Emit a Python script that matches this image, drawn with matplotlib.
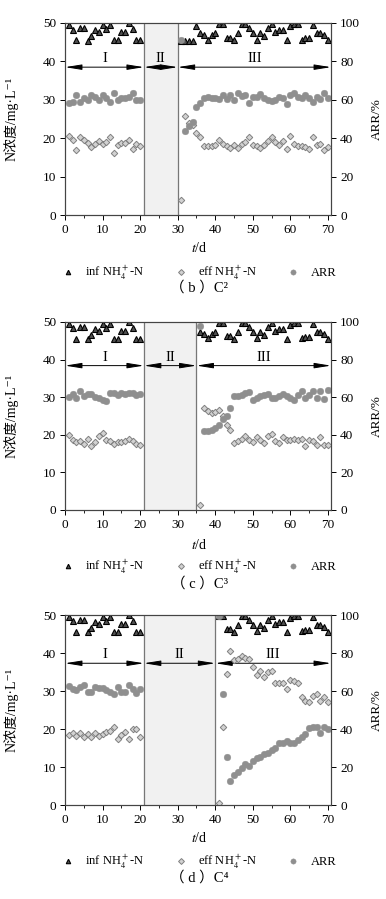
import numpy as np
import matplotlib
matplotlib.use("Agg")
from matplotlib import pyplot as plt
from matplotlib.lines import Line2D

plt.rcParams['font.family'] = ['Liberation Serif', 'Noto Sans CJK SC', 'DejaVu Sans']
plt.rcParams['mathtext.fontset'] = 'stix'

# influent NH4+-N, same feed in all reactors
days_1 = np.arange(1, 21)
inf_1 = [49.6, 48.3, 45.5, 48.8, 48.8, 45.4, 46.6, 48.1, 47.7, 49.6,
         48.5, 49.6, 45.5, 45.5, 47.7, 47.7, 50.0, 48.5, 45.5, 45.6]
days_3 = np.arange(31, 71)
inf_3 = [45.4, 45.3, 45.3, 45.2, 49.2, 47.3, 46.8, 45.7, 46.9, 47.3,
         49.7, 49.7, 46.2, 46.2, 45.5, 47.4, 49.7, 49.7, 48.6, 47.4,
         45.7, 47.4, 46.5, 48.6, 49.7, 47.7, 48.1, 48.1, 45.5, 49.2,
         49.7, 49.7, 45.7, 46.0, 46.0, 49.5, 47.4, 47.3, 46.8, 45.5]

# (b) C2
eff_b1 = [20.5, 19.5, 16.9, 20.2, 19.5, 18.8, 17.8, 18.6, 19.3, 18.5,
          19.1, 20.4, 16.2, 18.2, 18.8, 18.8, 19.5, 17.3, 18.5, 17.9]
arr_b1 = [58.4, 59.0, 62.7, 59.0, 60.7, 59.8, 62.4, 61.5, 60.1, 62.7,
          60.7, 59.0, 63.8, 60.1, 60.7, 60.7, 61.2, 63.8, 59.8, 60.1]
eff_b3 = [3.9, 25.7, 24.0, 23.5, 21.4, 20.2, 18.0, 18.0, 18.0, 18.2,
          19.5, 18.6, 18.0, 17.5, 18.2, 17.5, 18.6, 19.0, 20.2, 18.3,
          18.0, 17.5, 18.2, 19.3, 20.4, 19.0, 18.3, 19.2, 17.3, 20.5,
          18.6, 18.0, 18.0, 17.6, 17.2, 20.2, 18.2, 18.6, 17.0, 17.6]
arr_b3 = [91.3, 43.7, 46.3, 48.5, 56.3, 58.5, 60.7, 61.2, 61.0, 61.0,
          60.5, 62.4, 60.5, 62.4, 60.0, 63.3, 62.0, 62.4, 58.4, 61.2,
          61.5, 63.0, 61.0, 60.0, 59.4, 60.0, 61.5, 60.7, 58.0, 62.4,
          63.3, 61.5, 60.7, 62.4, 61.0, 59.0, 61.2, 60.2, 63.6, 60.7]

# (c) C3
eff_c1 = [20.0, 18.7, 18.1, 18.4, 17.5, 18.9, 17.1, 18.1, 19.6, 20.5,
          18.7, 18.4, 17.5, 18.1, 18.1, 18.4, 18.9, 18.4, 17.5, 17.4]
arr_c1 = [60.0, 61.8, 59.5, 63.5, 60.5, 61.5, 61.5, 60.3, 59.5, 58.5,
          58.0, 62.0, 62.3, 61.0, 62.0, 61.6, 62.0, 62.5, 61.4, 61.6]
eff_c3 = [1.3, 27.2, 26.4, 25.9, 26.0, 26.6, 25.0, 22.5, 21.2, 17.9,
          18.3, 18.8, 19.6, 18.6, 18.1, 19.4, 18.6, 17.8, 19.6, 20.1,
          18.4, 17.9, 19.5, 18.6, 18.6, 19.0, 18.5, 18.8, 17.0, 18.6,
          18.3, 17.4, 19.4, 17.2, 17.2]
arr_c3 = [97.8, 41.8, 42.0, 42.6, 43.5, 45.0, 48.5, 50.2, 54.5, 60.9,
          60.9, 61.2, 62.0, 62.7, 58.6, 59.5, 60.4, 61.0, 61.5, 59.8,
          59.8, 60.4, 61.7, 60.4, 59.5, 58.6, 61.0, 63.4, 59.5, 61.0,
          63.2, 59.8, 63.4, 59.1, 63.9]

# (d) C4
eff_d1 = [18.4, 19.0, 18.2, 18.9, 18.0, 18.6, 18.0, 18.9, 18.2, 18.7,
          19.1, 19.6, 20.6, 17.3, 18.4, 19.3, 17.3, 19.9, 19.9, 18.0]
arr_d1 = [62.8, 60.9, 60.5, 61.9, 63.2, 59.6, 59.6, 62.3, 61.4, 61.4,
          60.5, 59.6, 58.4, 61.9, 59.6, 59.6, 63.2, 60.9, 58.8, 60.9]
eff_d3 = [0.4, 20.5, 34.5, 40.6, 38.2, 38.5, 39.3, 38.6, 38.4, 36.2,
          34.2, 35.3, 33.7, 35.0, 35.2, 32.2, 32.2, 32.0, 30.6, 33.0,
          32.6, 32.2, 28.5, 27.4, 27.0, 28.6, 29.2, 27.5, 28.4, 27.2]
arr_d3 = [99.4, 58.4, 25.1, 12.8, 15.8, 17.5, 19.3, 21.6, 20.5, 23.3,
          24.6, 25.4, 26.8, 27.5, 28.9, 29.8, 32.8, 32.8, 33.8, 32.5,
          32.5, 34.2, 35.6, 37.4, 40.4, 40.9, 41.1, 38.1, 41.1, 40.0]

# phase II end day per reactor
panels = [
    ('b', '²', 30, eff_b1, arr_b1, eff_b3, arr_b3),
    ('c', '³', 35, eff_c1, arr_c1, eff_c3, arr_c3),
    ('d', '⁴', 40, eff_d1, arr_d1, eff_d3, arr_d3),
]
# pixel layout (top, bottom of axes, xlabel y, legend y, caption y, arrow y)
layout = [
    (23, 215, 248, 273, 288, 38.5),
    (322, 510, 545, 567, 584, 38.4),
    (615, 805, 838, 862, 878, 37.3),
]

W, H = 386, 899
fig = plt.figure(figsize=(W / 100, H / 100), dpi=100)

inf_kw = dict(ls='none', marker='^', ms=3.8, mfc='#505050', mec='black', mew=0.8)
eff_kw = dict(ls='none', marker='D', ms=3.3, mfc='#d2d2d2', mec='#808080', mew=0.7)
arr_kw = dict(ls='none', marker='o', ms=4.8, mfc='#8f8f8f', mec='#8f8f8f', mew=0.3)
fs = 9.5
xl, xr = 65, 331

for (tag, sup, end2, e1, a1, e3, a3), (top, bot, yxl, yleg, ycap, yarr) in zip(panels, layout):
    ax = fig.add_axes([xl / W, 1 - bot / H, (xr - xl) / W, (bot - top) / H])
    ax2 = ax.twinx()
    xmax = 70.8
    ax.set_xlim(0, xmax)
    ax.set_ylim(0, 50)
    ax2.set_ylim(0, 100)

    ax.axvspan(21, end2, color='#f1f1f1', zorder=0)
    ax.axvline(21, color='#777777', lw=0.9)
    ax.axvline(end2, color='#777777', lw=0.9)

    # phase arrows
    for x0, x1, lab in [(0, 21, 'I'), (21, end2, 'II'), (end2, xmax, 'III')]:
        ax.annotate('', xy=(x1, yarr), xytext=(x0, yarr),
                    arrowprops=dict(arrowstyle='<|-|>,head_length=1.0,head_width=0.16',
                                    color='black', lw=0.7, shrinkA=0, shrinkB=0))
        ax.text((x0 + x1) / 2, yarr + 0.5, lab, ha='center', va='bottom', fontsize=10.5)

    d3 = np.arange(end2 + 1, 71)
    inf3 = inf_3[end2 + 1 - 31:]
    ax.plot(days_1, inf_1, **inf_kw, zorder=3)
    ax.plot(d3, inf3, **inf_kw, zorder=3)
    ax.plot(days_1, e1, **eff_kw, zorder=3)
    ax.plot(d3, e3, **eff_kw, zorder=3)
    ax2.plot(days_1, a1, **arr_kw)
    ax2.plot(d3, a3, **arr_kw)

    ax.set_xticks(np.arange(0, 71, 10))
    ax.set_xticks(np.arange(5, 71, 10), minor=True)
    ax.set_yticks(np.arange(0, 51, 10))
    ax2.set_yticks(np.arange(0, 101, 20))
    ax.tick_params(axis='both', direction='out', labelsize=fs, length=3.5, width=0.7, pad=3)
    ax.tick_params(axis='x', which='minor', direction='out', length=2, width=0.6)
    ax2.tick_params(axis='y', direction='out', labelsize=fs, length=3.5, width=0.7, pad=3)
    for a in (ax, ax2):
        for s in a.spines.values():
            s.set_linewidth(0.8)
            s.set_color('#444444')

    ax.set_ylabel('N浓度/mg·L⁻¹', fontsize=10)
    ax.yaxis.set_label_coords(-0.175, 0.5)
    ax2.set_ylabel('ARR/%', fontsize=9.5)
    ax2.yaxis.set_label_coords(1.15, 0.5)

    fig.text(199 / W, 1 - yxl / H, '$t$/d', ha='center', va='center', fontsize=10)

    handles = [Line2D([], [], **dict(inf_kw, ms=3.2)),
               Line2D([], [], **dict(eff_kw, ms=3.0)),
               Line2D([], [], **dict(arr_kw, ms=3.8))]
    labels = ['inf NH$_4^+$-N', 'eff NH$_4^+$-N', 'ARR']
    fig.legend(handles, labels, loc='center', bbox_to_anchor=(199 / W, 1 - yleg / H),
               ncol=3, frameon=False, fontsize=9, handlelength=1.0,
               handletextpad=0.9, columnspacing=2.4, borderpad=0)

    fig.text(199 / W, 1 - ycap / H, '（ ' + tag + ' ）C' + sup,
             ha='center', va='center', fontsize=10.5)

fig.savefig('out.png', dpi=100)
